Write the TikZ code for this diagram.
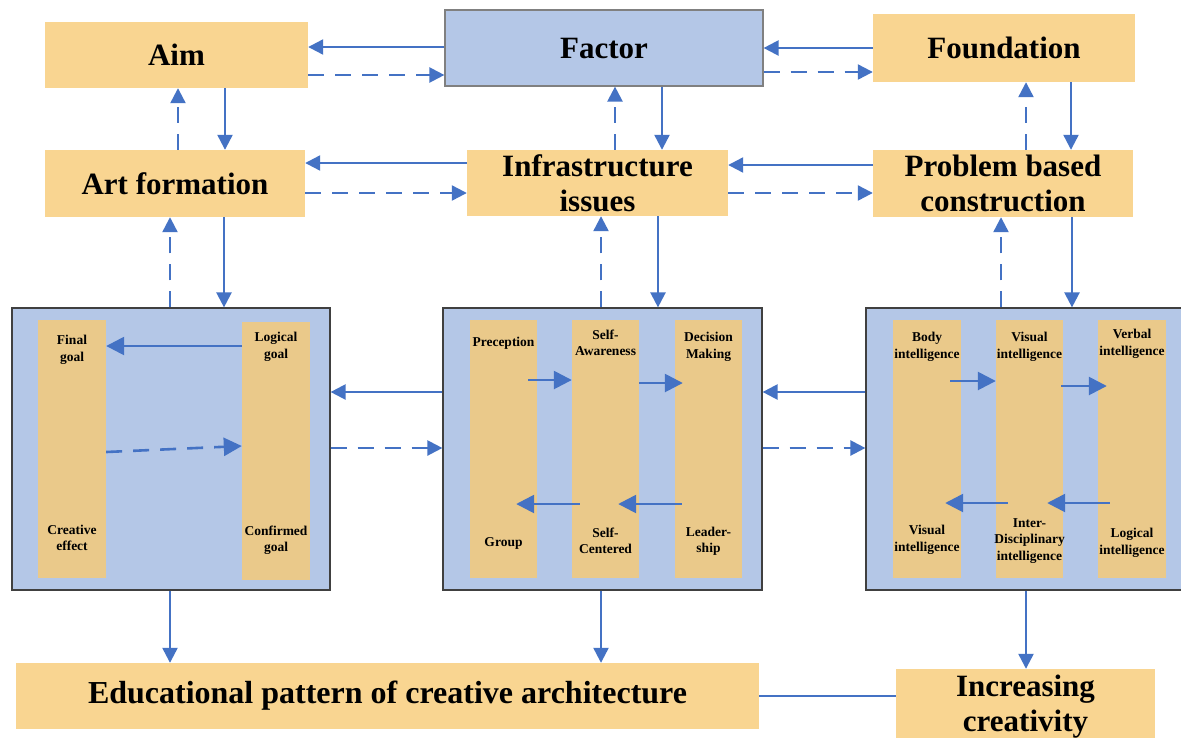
\documentclass[tikz,border=0pt]{standalone}
\usepackage{fontspec}
\setmainfont{Liberation Serif}
\usetikzlibrary{arrows.meta}
\definecolor{boxorange}{HTML}{F9D591}
\definecolor{colorange}{HTML}{EAC98A}
\definecolor{panelblue}{HTML}{B4C7E7}
\definecolor{linkblue}{HTML}{4472C4}
\definecolor{frame}{HTML}{404040}
\begin{document}
\begin{tikzpicture}[x=1pt,y=-1pt,
  card/.style={fill=boxorange, inner sep=0pt, align=center,
    font=\fontsize{31}{35}\selectfont\bfseries},
  factorbox/.style={card, fill=panelblue, draw=gray, line width=1.2pt},
  panel/.style={fill=panelblue, draw=frame, line width=1.2pt, inner sep=0pt},
  column/.style={fill=colorange, inner sep=0pt},
  small/.style={font=\fontsize{13.5}{16.5}\selectfont\bfseries, align=center, inner sep=0pt},
  link/.style={draw=linkblue, line width=2.3pt, -{Triangle[length=15pt,width=15pt]}},
  dlink/.style={link, dash pattern=on 16pt off 11pt},
  plain/.style={draw=linkblue, line width=2.3pt},
  ilink/.style={draw=linkblue, line width=2.6pt, -{Triangle[length=18pt,width=18pt]}},
  idlink/.style={ilink, dash pattern=on 16pt off 11pt},
]
\useasboundingbox (0,0) rectangle (1181,737);
\fill[white] (0,0) rectangle (1181,737);

% top row
\node[card, minimum width=263pt, minimum height=66pt] (aim) at (176.5,55) {Aim};
\node[factorbox, minimum width=318pt, minimum height=76pt] (factor) at (604,48) {Factor};
\node[card, minimum width=262pt, minimum height=68pt] (found) at (1004,48) {Foundation};

% second row
\node[card, minimum width=260pt, minimum height=67pt] (art) at (175,183.5) {Art formation};
\node[card, minimum width=261pt, minimum height=66pt] (infra) at (597.5,183) {Infrastructure\\issues};
\node[card, minimum width=260pt, minimum height=67pt] (prob) at (1003,183.5) {Problem based\\construction};

% panels
\node[panel, minimum width=318pt, minimum height=282pt] (lp) at (171,449) {};
\node[panel, minimum width=319pt, minimum height=282pt] (mp) at (602.5,449) {};
\node[panel, minimum width=320pt, minimum height=282pt] (rp) at (1026,449) {};

% columns of the left panel
\node[column, minimum width=68pt, minimum height=258pt] (lc1) at (72,449) {};
\node[column, minimum width=68pt, minimum height=258pt] (lc2) at (276,451) {};
% columns of the middle panel
\node[column, minimum width=67pt, minimum height=258pt] (mc1) at (503.5,449) {};
\node[column, minimum width=67pt, minimum height=258pt] (mc2) at (605.5,449) {};
\node[column, minimum width=67pt, minimum height=258pt] (mc3) at (708.5,449) {};
% columns of the right panel
\node[column, minimum width=68pt, minimum height=258pt] (rc1) at (927,449) {};
\node[column, minimum width=67pt, minimum height=258pt] (rc2) at (1029.5,449) {};
\node[column, minimum width=68pt, minimum height=258pt] (rc3) at (1132,449) {};

% column labels
\node[small] (t1) at (lc1 |- 0,350) {Final\\goal};
\node[small] (t2) at (lc2 |- 0,347) {Logical\\goal};
\node[small] (t3) at (lc1 |- 0,538) {Creative\\effect};
\node[small] (t4) at (lc2 |- 0,540) {Confirmed\\goal};
\node[small] (t5) at (mc1 |- 0,343) {Preception};
\node[small] (t6) at (mc2 |- 0,343) {Self-\\Awareness};
\node[small] (t7) at (mc3 |- 0,347) {Decision\\Making};
\node[small] (t8) at (mc1 |- 0,543) {Group};
\node[small] (t9) at (mc2 |- 0,541) {Self-\\Centered};
\node[small] (t10) at (mc3 |- 0,541) {Leader-\\ship};
\node[small] (t11) at (rc1 |- 0,347) {Body\\intelligence};
\node[small] (t12) at (rc2 |- 0,347) {Visual\\intelligence};
\node[small] (t13) at (rc3 |- 0,344) {Verbal\\intelligence};
\node[small] (t14) at (rc1 |- 0,540) {Visual\\intelligence};
\node[small] (t15) at (rc2 |- 0,541) {Inter-\\Disciplinary\\intelligence};
\node[small] (t16) at (rc3 |- 0,543) {Logical\\intelligence};

% bottom row
\node[card, minimum width=743pt, minimum height=66pt, font=\fontsize{32}{35}\selectfont\bfseries] (edu) at (387.5,696) {Educational pattern of creative architecture};
\node[card, minimum width=259pt, minimum height=76pt] (inc) at (1025.5,707) {Increasing\\creativity};

% links of the top rows
\draw[link]  (factor.west |- 0,47) -- (aim.east |- 0,47);
\draw[dlink] (aim.east |- 0,75) -- (factor.west |- 0,75);
\draw[link]  (found.west |- 0,48) -- (factor.east |- 0,48);
\draw[dlink] (factor.east |- 0,72) -- (found.west |- 0,72);
\draw[dlink] (art.north -| 178,0) -- (aim.south -| 178,0);
\draw[link]  (aim.south -| 225,0) -- (art.north -| 225,0);
\draw[dlink] (infra.north -| 615,0) -- (factor.south -| 615,0);
\draw[link]  (factor.south -| 662,0) -- (infra.north -| 662,0);
\draw[dlink] (prob.north -| 1026,0) -- (found.south -| 1026,0);
\draw[link]  (found.south -| 1071,0) -- (prob.north -| 1071,0);
\draw[link]  (infra.west |- 0,163) -- (art.east |- 0,163);
\draw[dlink] (art.east |- 0,193) -- (infra.west |- 0,193);
\draw[link]  (prob.west |- 0,165) -- (infra.east |- 0,165);
\draw[dlink] (infra.east |- 0,193) -- (prob.west |- 0,193);

% links between the second row and the panels
\draw[dlink] (lp.north -| 170,0) -- (art.south -| 170,0);
\draw[link]  (art.south -| 224,0) -- (lp.north -| 224,0);
\draw[dlink] (mp.north -| 601,0) -- (infra.south -| 601,0);
\draw[link]  (infra.south -| 658,0) -- (mp.north -| 658,0);
\draw[dlink] (rp.north -| 1001,0) -- (prob.south -| 1001,0);
\draw[link]  (prob.south -| 1072,0) -- (rp.north -| 1072,0);

% links between the panels
\draw[link]  (mp.west |- 0,392) -- (lp.east |- 0,392);
\draw[dlink] (lp.east |- 0,448) -- (mp.west |- 0,448);
\draw[link]  (rp.west |- 0,392) -- (mp.east |- 0,392);
\draw[dlink] (mp.east |- 0,448) -- (rp.west |- 0,448);

% links to the bottom row
\draw[link]  (lp.south -| 170,0) -- (edu.north -| 170,0);
\draw[link]  (mp.south -| 601,0) -- (edu.north -| 601,0);
\draw[link]  (rp.south -| 1026,0) -- (inc.north -| 1026,0);
\draw[plain] (edu.east) -- (inc.west |- edu.east);

% links inside the left panel
\draw[ilink]  (lc2.west |- 0,346) -- (lc1.east |- 0,346);
\draw[idlink] (lc1.east |- 0,452) -- (lc2.west |- 0,446);

% links inside the middle panel
\draw[ilink] ([xshift=-9pt]mc1.east |- 0,380) -- (mc2.west |- 0,380);
\draw[ilink] (mc2.east |- 0,383) -- ([xshift=8pt]mc3.west |- 0,383);
\draw[ilink] ([xshift=7pt]mc3.west |- 0,504) -- ([xshift=-21pt]mc2.east |- 0,504);
\draw[ilink] ([xshift=8pt]mc2.west |- 0,504) -- ([xshift=-21pt]mc1.east |- 0,504);

% links inside the right panel
\draw[ilink] ([xshift=-11pt]rc1.east |- 0,381) -- (rc2.west |- 0,381);
\draw[ilink] ([xshift=-2pt]rc2.east |- 0,386) -- ([xshift=9pt]rc3.west |- 0,386);
\draw[ilink] ([xshift=12pt]rc3.west |- 0,503) -- ([xshift=-16pt]rc2.east |- 0,503);
\draw[ilink] ([xshift=12pt]rc2.west |- 0,503) -- ([xshift=-16pt]rc1.east |- 0,503);
\end{tikzpicture}
\end{document}
